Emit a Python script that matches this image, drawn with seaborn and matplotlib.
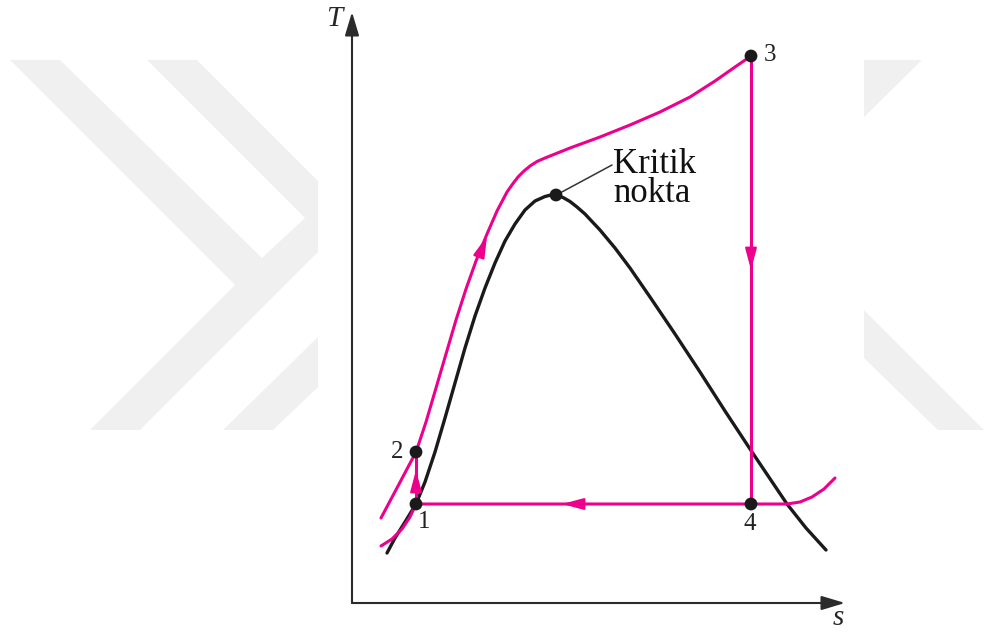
import numpy as np
import pandas as pd
import seaborn as sns
import matplotlib.pyplot as plt
from matplotlib.patches import Polygon

sns.set_theme(style="white")
plt.rcParams['font.family'] = ['Liberation Serif', 'DejaVu Serif']

MAGENTA = '#ec008c'
DOME_C = '#1a1a1a'

# Saturation dome (entropy s, temperature T), arbitrary units
dome_s = [0.70, 0.86, 1.06, 1.28, 1.46, 1.66, 1.86, 2.06, 2.26, 2.46, 2.66, 2.86,
          3.06, 3.26, 3.46, 3.66, 3.86, 3.98, 4.08, 4.22, 4.36, 4.50, 4.66, 4.80,
          4.96, 5.26, 5.56, 5.96, 6.46, 6.96, 7.46, 8.00, 8.70, 9.08, 9.48]
dome_T = [1.00, 1.30, 1.62, 1.98, 2.42, 3.02, 3.70, 4.40, 5.10, 5.74, 6.30, 6.80,
          7.24, 7.58, 7.86, 8.04, 8.13, 8.16, 8.16, 8.11, 8.03, 7.92, 7.78, 7.63,
          7.46, 7.10, 6.70, 6.12, 5.38, 4.62, 3.84, 3.02, 1.98, 1.50, 1.06]

# High-pressure isobar through states 2 and 3
hp_s = [0.58, 0.92, 1.28, 1.48, 1.68, 1.88, 2.08, 2.28, 2.48, 2.70, 2.90, 3.10,
        3.22, 3.32, 3.44, 3.56, 3.70, 3.86, 4.36, 4.96, 5.56, 6.16, 6.76, 7.26,
        7.66, 7.98]
hp_T = [1.70, 2.34, 3.02, 3.62, 4.30, 4.98, 5.66, 6.28, 6.84, 7.38, 7.84, 8.22,
        8.39, 8.52, 8.64, 8.74, 8.83, 8.90, 9.10, 9.32, 9.56, 9.82, 10.12, 10.44,
        10.72, 10.94]

# Low-pressure isobar through states 1 and 4
lp_s = [0.58, 0.80, 1.00, 1.16, 1.28, 7.98, 8.70, 8.96, 9.20, 9.44, 9.66]
lp_T = [1.14, 1.28, 1.48, 1.72, 1.98, 1.98, 1.98, 2.02, 2.12, 2.28, 2.50]

# Cycle state points
state_labels = ['1', '2', '3', '4']
state_s = [1.28, 1.28, 7.98, 7.98]
state_T = [1.98, 3.02, 10.94, 1.98]

# Critical point
crit_s, crit_T = 4.08, 8.16

fig = plt.figure(figsize=(9.84, 6.34), dpi=100)

# Light background emblem in pixel space
bg = fig.add_axes([0, 0, 1, 1], zorder=0)
bg.set_xlim(0, 984)
bg.set_ylim(634, 0)
bg.axis('off')
emblem = [
    [(10, 60), (60, 60), (262, 258), (305, 218), (147, 60), (197, 60), (318, 181),
     (318, 252), (140, 430), (90, 430), (235, 285)],
    [(223, 430), (273, 430), (318, 387), (318, 337)],
    [(864, 60), (922, 60), (864, 117)],
    [(864, 310), (984, 430), (938, 430), (864, 358)],
]
for poly in emblem:
    bg.add_patch(Polygon(poly, closed=True, facecolor='#f0f0f0', edgecolor='none'))

ax = fig.add_axes([0, 0, 1, 1], zorder=1)
ax.patch.set_alpha(0)
ax.set_xlim(-7.04, 12.64)
ax.set_ylim(-0.62, 12.06)
ax.axis('off')

# Coordinate axes with arrow tips
axis_kw = dict(arrowstyle='-|>,head_length=1.1,head_width=0.33', color='#2b2b2b',
               lw=1.5, mutation_scale=13, shrinkA=0, shrinkB=0)
ax.annotate('', xy=(0, 11.82), xytext=(0, 0), arrowprops=axis_kw)
ax.annotate('', xy=(9.86, 0), xytext=(0, 0), arrowprops=axis_kw)
ax.text(-0.36, 11.68, 'T', fontsize=21, style='italic', ha='center', va='center')
ax.text(9.72, -0.30, 's', fontsize=21, style='italic', ha='center', va='center')

dome = pd.DataFrame({'s': dome_s, 'T': dome_T})
hp = pd.DataFrame({'s': hp_s, 'T': hp_T})
lp = pd.DataFrame({'s': lp_s, 'T': lp_T})

sns.lineplot(data=dome, x='s', y='T', sort=False, estimator=None, color=DOME_C,
             lw=2.4, ax=ax, zorder=3)
sns.lineplot(data=hp, x='s', y='T', sort=False, estimator=None, color=MAGENTA,
             lw=2.2, ax=ax, zorder=4)
sns.lineplot(data=lp, x='s', y='T', sort=False, estimator=None, color=MAGENTA,
             lw=2.2, ax=ax, zorder=4)

# Process lines 1-2 (pump) and 3-4 (turbine)
cyc = pd.DataFrame({'s': [state_s[0], state_s[1]], 'T': [state_T[0], state_T[1]]})
sns.lineplot(data=cyc, x='s', y='T', sort=False, estimator=None, color=MAGENTA,
             lw=2.2, ax=ax, zorder=4)
cyc2 = pd.DataFrame({'s': [state_s[2], state_s[3]], 'T': [state_T[2], state_T[3]]})
sns.lineplot(data=cyc2, x='s', y='T', sort=False, estimator=None, color=MAGENTA,
             lw=2.2, ax=ax, zorder=4)

# Direction arrows along the cycle
head_kw = dict(arrowstyle='-|>,head_length=1.2,head_width=0.32', color=MAGENTA,
               lw=1.5, mutation_scale=11, shrinkA=0, shrinkB=0)
for tip, tail in [((1.28, 2.66), (1.28, 2.30)),
                  ((2.70, 7.34), (2.56, 6.98)),
                  ((7.98, 6.66), (7.98, 7.00)),
                  ((4.20, 1.98), (4.50, 1.98))]:
    ax.annotate('', xy=tip, xytext=tail, arrowprops=head_kw, zorder=5)

pts = pd.DataFrame({'s': state_s + [crit_s], 'T': state_T + [crit_T]})
sns.scatterplot(data=pts, x='s', y='T', color='#1a1a1a', s=85, edgecolor='none',
                ax=ax, zorder=6)

label_pos = {'1': (1.44, 1.62), '2': (0.90, 3.02), '3': (8.36, 10.96), '4': (7.96, 1.58)}
for lab in state_labels:
    x, y = label_pos[lab]
    ax.text(x, y, lab, fontsize=18, ha='center', va='center', color='#222222')

# Critical point callout
ax.plot([crit_s + 0.08, 5.20], [crit_T + 0.04, 8.76], color='#333333', lw=1.1, zorder=5)
ax.text(5.22, 9.10, 'Kritik\nnokta', fontsize=25, ha='left', va='top',
        linespacing=0.85, color='#111111')

fig.savefig('out.png', dpi=100)
